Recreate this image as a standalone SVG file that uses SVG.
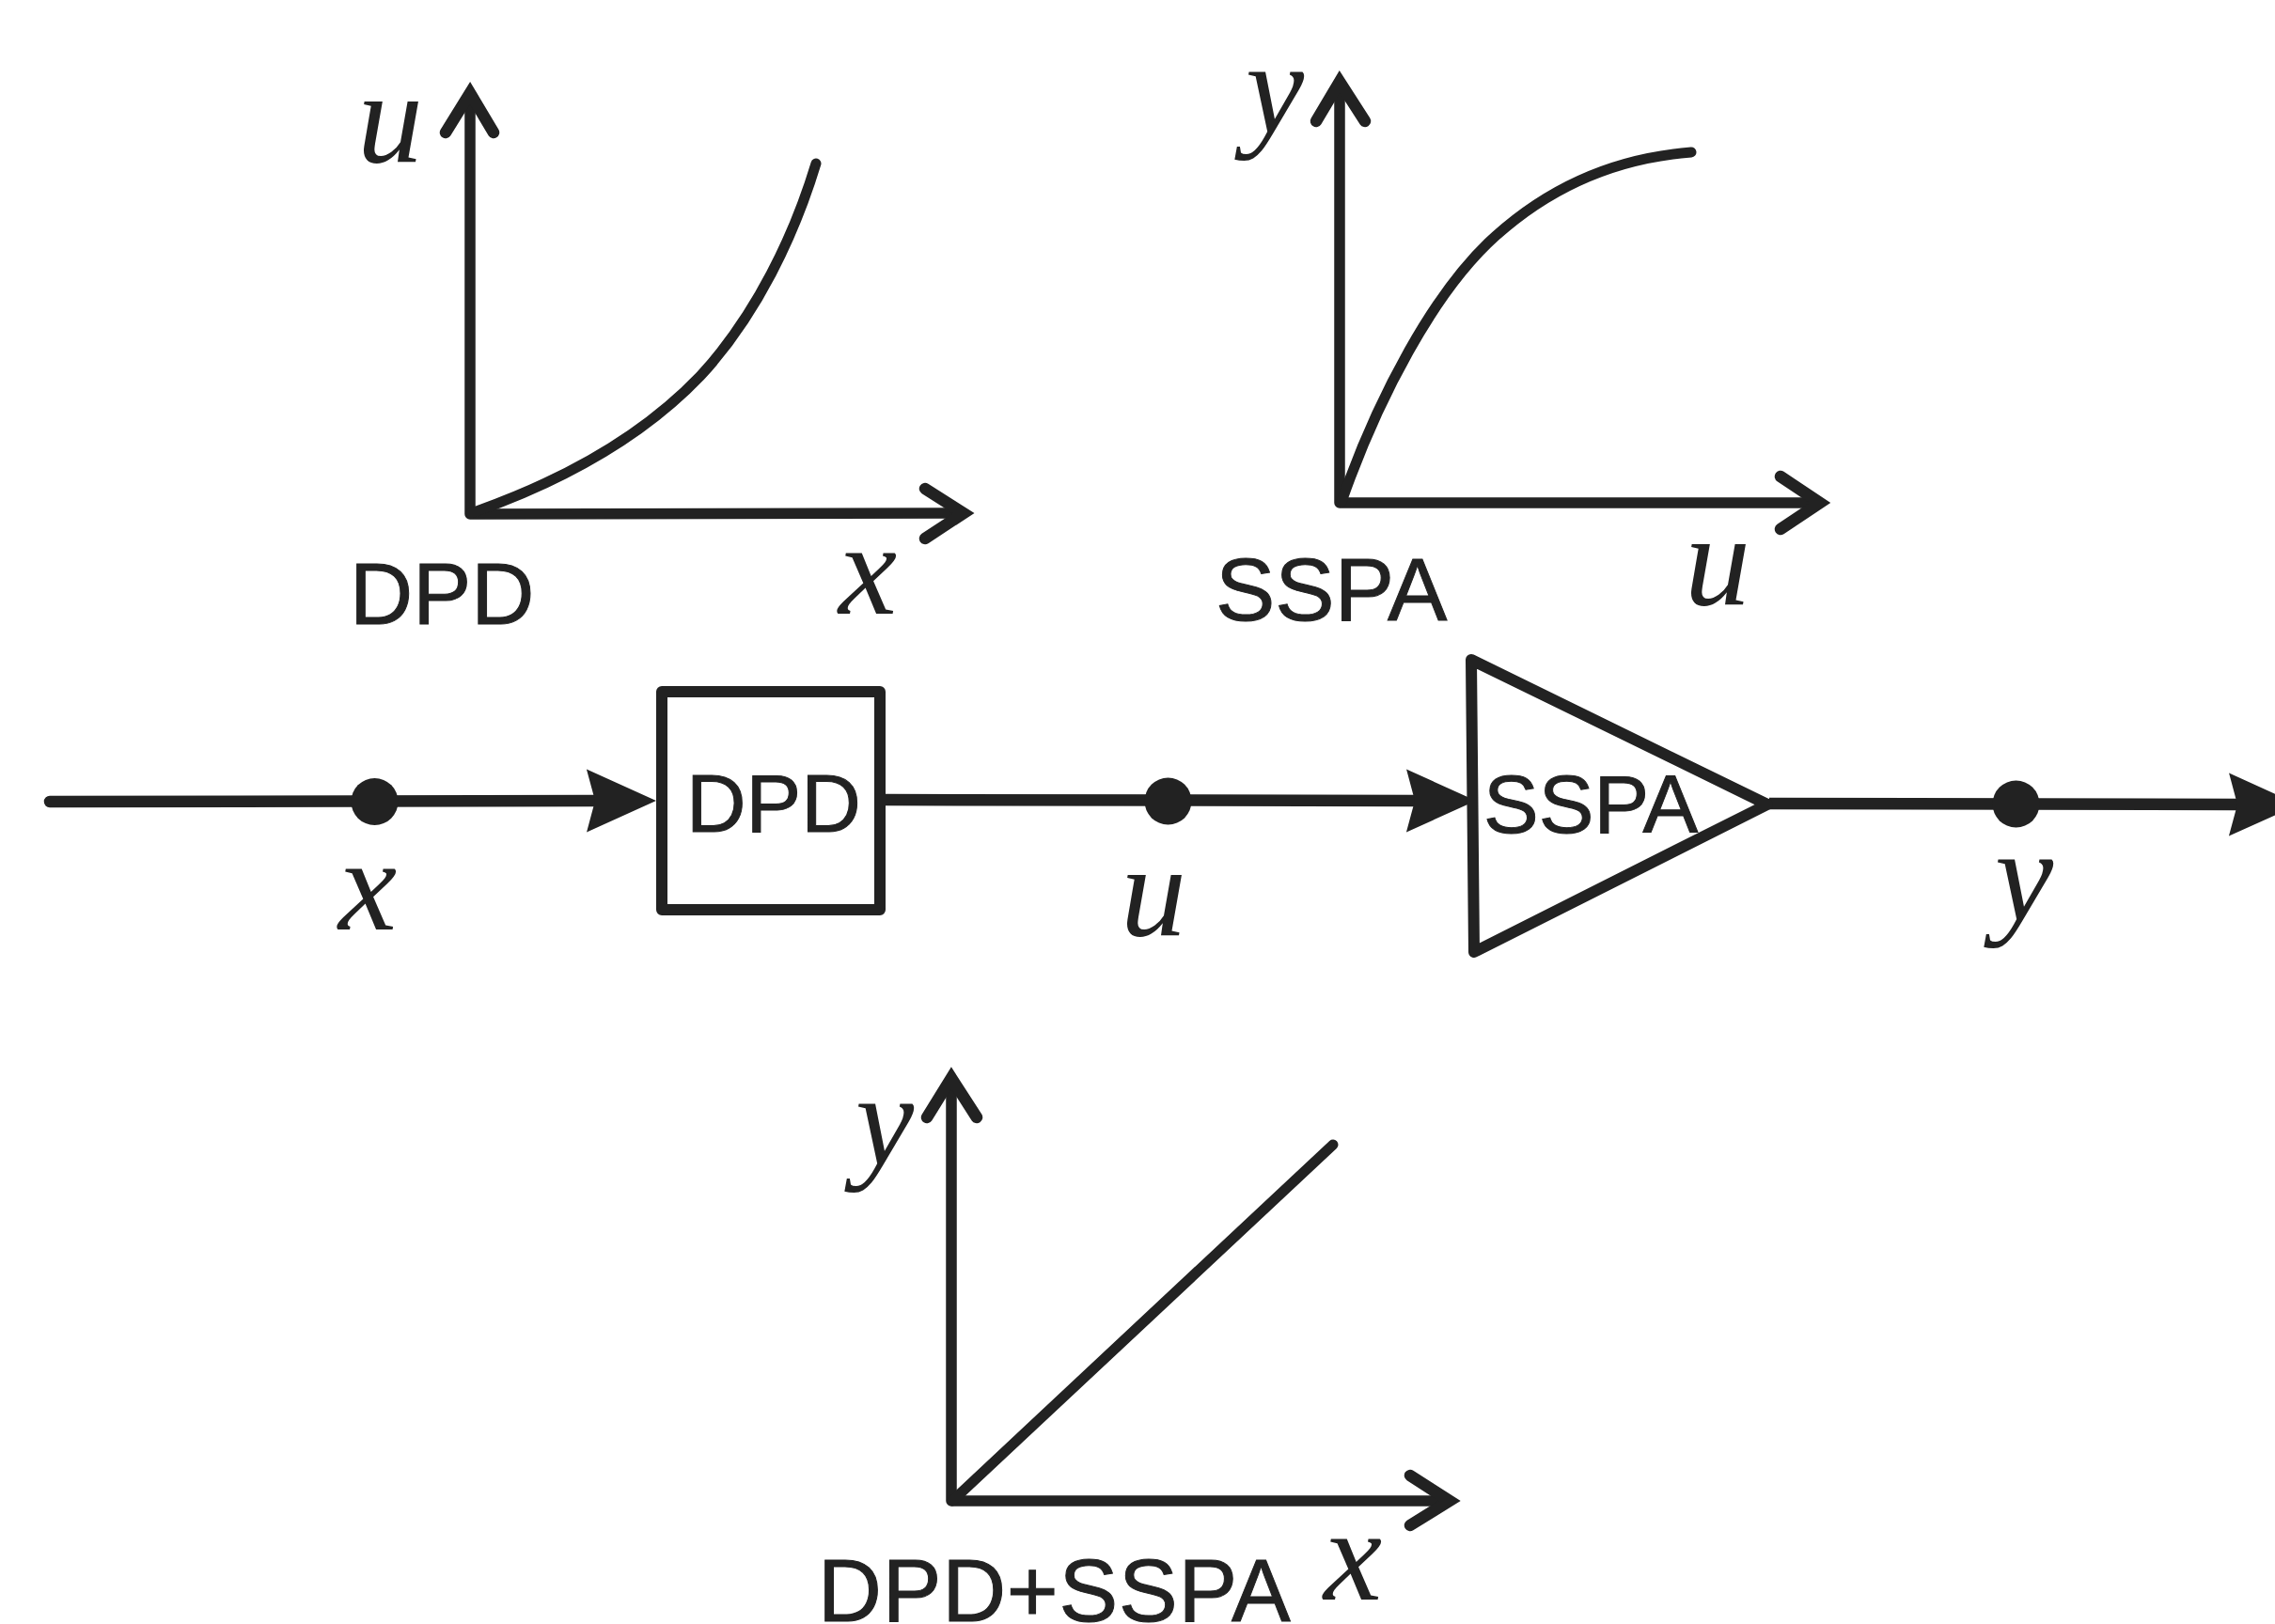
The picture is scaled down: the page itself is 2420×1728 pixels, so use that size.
<svg xmlns="http://www.w3.org/2000/svg" width="2420" height="1728" viewBox="0 0 2420 1728">
<style>
.ax{fill:none;stroke:#222;stroke-width:11.500;stroke-linecap:round;stroke-linejoin:round}
.head{fill:none;stroke:#222;stroke-width:12.500;stroke-linecap:round;stroke-linejoin:miter;stroke-miterlimit:8}
.crv{fill:none;stroke:#222;stroke-width:11;stroke-linecap:round;stroke-linejoin:round}
.wire{fill:none;stroke:#222;stroke-width:12.500;stroke-linecap:round}
.blk{fill:none;stroke:#222;stroke-width:12;stroke-linejoin:round}
.dot{fill:#222}
.t{font-family:"Liberation Sans",Arial,sans-serif;fill:#222;stroke:#222;stroke-width:1}
.v{font-family:"Liberation Serif","Times New Roman",serif;font-style:italic;font-size:140px;fill:#222}
</style>
<defs>
<marker id="fa" markerUnits="userSpaceOnUse" markerWidth="80" markerHeight="70" viewBox="0 -35 80 70" refX="9" refY="0" orient="auto"><path d="M0,-33.500L74,0L0,33.500L9,0z" fill="#222"/></marker>
</defs>
<rect width="2420" height="1728" fill="#fff"/>
<g id="chart-dpd">
<path class="ax" d="M500,100V547L1016,546"/>
<path class="head" d="M474,141L500,99L525,141"/>
<path class="head" d="M984,520L1025,546L984,573"/>
<path class="crv" d="M501,546C590,515 680,468 745,400C805,335 845,250 868,174"/>
<text class="t" x="372" y="664" font-size="93">DPD</text>
<text class="v" x="380" y="172">u</text>
<text class="v" x="892" y="653">x</text>
</g>
<g id="chart-sspa">
<path class="ax" d="M1425,90V535H1926"/>
<path class="head" d="M1400,129L1425,87L1452,129"/>
<path class="head" d="M1894,507L1936,535L1894,563"/>
<path class="crv" d="M1427,534C1465,425 1525,310 1591,251C1650,198 1720,168 1799,162"/>
<text class="t" x="1293" y="660" font-size="95">SSPA</text>
<text class="v" x="1792" y="643">u</text>
<text class="v" x="1325" y="141">y</text>
</g>
<g id="chart-combined">
<path class="ax" d="M1012,1150V1597H1532"/>
<path class="head" d="M986,1189L1012,1147L1039,1189"/>
<path class="head" d="M1500,1570L1542,1597L1500,1623"/>
<path class="crv" d="M1013,1597L1418,1218"/>
<text class="t" x="870" y="1725" font-size="94" letter-spacing="0.800">DPD+SSPA</text>
<text class="v" x="910" y="1239">y</text>
<text class="v" x="1408" y="1702">x</text>
</g>
<g id="connectors">
<path class="wire" d="M53,853L633,852" marker-end="url(#fa)"/>
<path class="wire" d="M942,851L1505,852" marker-end="url(#fa)" style="stroke-linecap:butt"/>
<path class="wire" d="M1882,855L2380,856" marker-end="url(#fa)" style="stroke-linecap:butt"/>
</g>
<g id="sig-x"><circle class="dot" cx="398.500" cy="853" r="25"/><text class="v" x="360" y="989">x</text></g>
<g id="sig-u"><circle class="dot" cx="1242.500" cy="852.500" r="25"/><text class="v" x="1192" y="995">u</text></g>
<g id="sig-y"><circle class="dot" cx="2144.500" cy="855.500" r="25"/><text class="v" x="2122" y="979">y</text></g>
<g id="node-dpd">
<rect class="blk" x="704" y="736" width="232" height="232"/>
<text class="t" x="730" y="885" font-size="88">DPD</text>
</g>
<g id="node-sspa">
<path class="blk" d="M1565,702L1880,856L1568,1013z"/>
<text class="t" x="1578" y="886" font-size="88">SSPA</text>
</g>
</svg>
